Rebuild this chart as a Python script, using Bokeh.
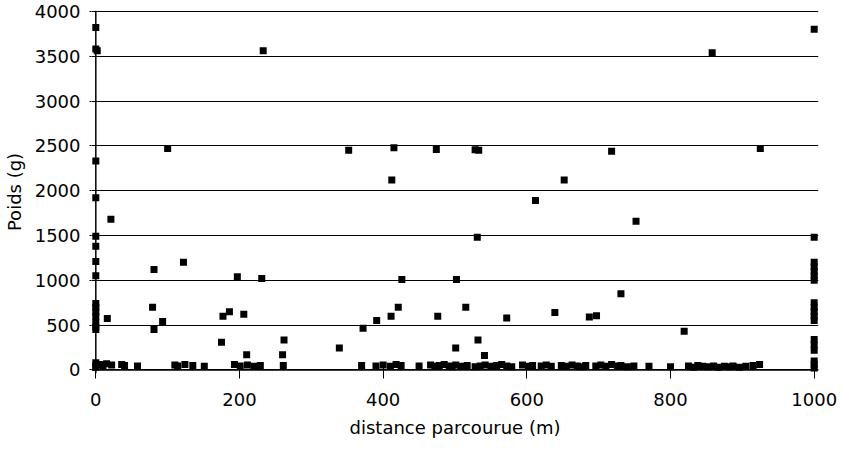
from bokeh.plotting import figure
from bokeh.models import Range1d, FixedTicker, Span
from bokeh.embed import file_html
from bokeh.resources import INLINE

# --- data (distance parcourue en m, poids en g) ---
dist_start = [0, 2, 0, 0, 0, 0, 0, 0, 0, 0, 0, 0, 0, 0, 0, 0, 0, 0, 0,
              21, 16, 5, 10, 15, 22, 36, 40, 58]
poids_start = [3820, 3560, 3580, 2330, 1920, 1490, 1380, 1210, 1050, 740, 700, 650, 600, 530, 480, 450, 80, 50, 30,
               1680, 575, 60, 50, 70, 55, 60, 50, 45]

dist_high = [233, 100, 352, 415, 474, 528, 533, 412, 652, 858, 718, 925, 1000,
             612, 531, 752]
poids_high = [3560, 2470, 2450, 2480, 2460, 2455, 2450, 2120, 2120, 3540, 2440, 2470, 3800,
              1890, 1480, 1660]

dist_mid = [81, 122, 197, 231, 426, 502,
            79, 81, 93, 177, 186, 206, 175, 210, 262, 260, 261,
            339, 372, 391, 411, 421, 476, 515, 501, 532, 541, 572, 639, 687, 697, 731, 819]
poids_mid = [1120, 1200, 1040, 1020, 1010, 1010,
             700, 450, 540, 600, 650, 620, 310, 170, 335, 170, 50,
             245, 465, 550, 600, 700, 600, 700, 245, 335, 160, 580, 640, 590, 605, 850, 430]

dist_low = [110, 114, 124, 135, 151, 193, 201, 211, 220, 229,
            370, 390, 400, 410, 418, 425, 450, 466, 472, 478, 485, 492, 496, 501, 508, 517,
            528, 535, 542, 550, 558, 565, 572, 579, 594, 602, 608, 620, 627, 634, 648,
            655, 663, 670, 676, 682, 696, 703, 710, 718, 726, 731, 740, 749, 770, 800,
            825, 832, 838, 845, 852, 860, 867, 875, 882, 887, 896, 905, 915, 924]
poids_low = [55, 45, 60, 50, 40, 60, 45, 55, 40, 50,
             50, 45, 55, 40, 60, 50, 45, 55, 40, 50, 60, 45, 35, 55, 40, 50,
             35, 45, 55, 40, 50, 60, 45, 35, 55, 40, 50, 45, 55, 40, 50,
             40, 55, 45, 35, 50, 45, 55, 40, 60, 45, 50, 35, 45, 40, 35,
             45, 30, 50, 40, 35, 45, 30, 40, 35, 45, 30, 40, 50, 60]

dist_end = [1000] * 17
poids_end = [1480, 1200, 1150, 1100, 1050, 1000, 750, 700, 650, 600, 550, 340, 280, 220, 100, 60, 20]

x_ticks = [0, 200, 400, 600, 800, 1000]
y_ticks = [0, 500, 1000, 1500, 2000, 2500, 3000, 3500, 4000]

dist = dist_start + dist_high + dist_mid + dist_low + dist_end
poids = poids_start + poids_high + poids_mid + poids_low + poids_end

FONT = "DejaVu Sans"

p = figure(width=838, height=445, output_backend="svg", toolbar_location=None,
           x_range=Range1d(-6, 1006), y_range=Range1d(-40, 4010),
           min_border_left=85, min_border_right=20, min_border_top=10, min_border_bottom=72)
p.outline_line_color = None
p.background_fill_color = "white"
p.border_fill_color = "white"

p.xgrid.grid_line_color = None
p.ygrid.ticker = FixedTicker(ticks=y_ticks)
p.ygrid.grid_line_color = "black"
p.ygrid.grid_line_width = 1.2

# axis lines at x = 0 and y = 0
p.add_layout(Span(location=0, dimension="height", line_color="black", line_width=1.5))
p.add_layout(Span(location=0, dimension="width", line_color="black", line_width=1.5))

p.scatter(dist, poids, marker="square", size=7, fill_color="black", line_color=None)

xa = p.xaxis[0]
xa.ticker = FixedTicker(ticks=x_ticks)
xa.axis_line_color = None
xa.major_tick_in = 8
xa.major_tick_out = 5
xa.minor_tick_out = 0
xa.minor_tick_in = 0
xa.major_tick_line_color = "black"
xa.minor_tick_line_color = None
xa.major_label_standoff = 14
xa.axis_label = "distance parcourue (m)"
xa.axis_label_standoff = 8

ya = p.yaxis[0]
ya.ticker = FixedTicker(ticks=y_ticks)
ya.axis_line_color = None
ya.major_tick_in = 0
ya.major_tick_out = 2
ya.minor_tick_out = 0
ya.minor_tick_in = 0
ya.major_tick_line_color = "black"
ya.minor_tick_line_color = None
ya.major_label_standoff = 9
ya.axis_label = "Poids (g)"
ya.axis_label_standoff = 7

for ax in (xa, ya):
    ax.major_label_text_font = FONT
    ax.major_label_text_font_size = "18px"
    ax.major_label_text_color = "black"
    ax.axis_label_text_font = FONT
    ax.axis_label_text_font_size = "18px"
    ax.axis_label_text_font_style = "normal"
    ax.axis_label_text_color = "black"

open("out.html", "w").write(file_html(p, INLINE))
